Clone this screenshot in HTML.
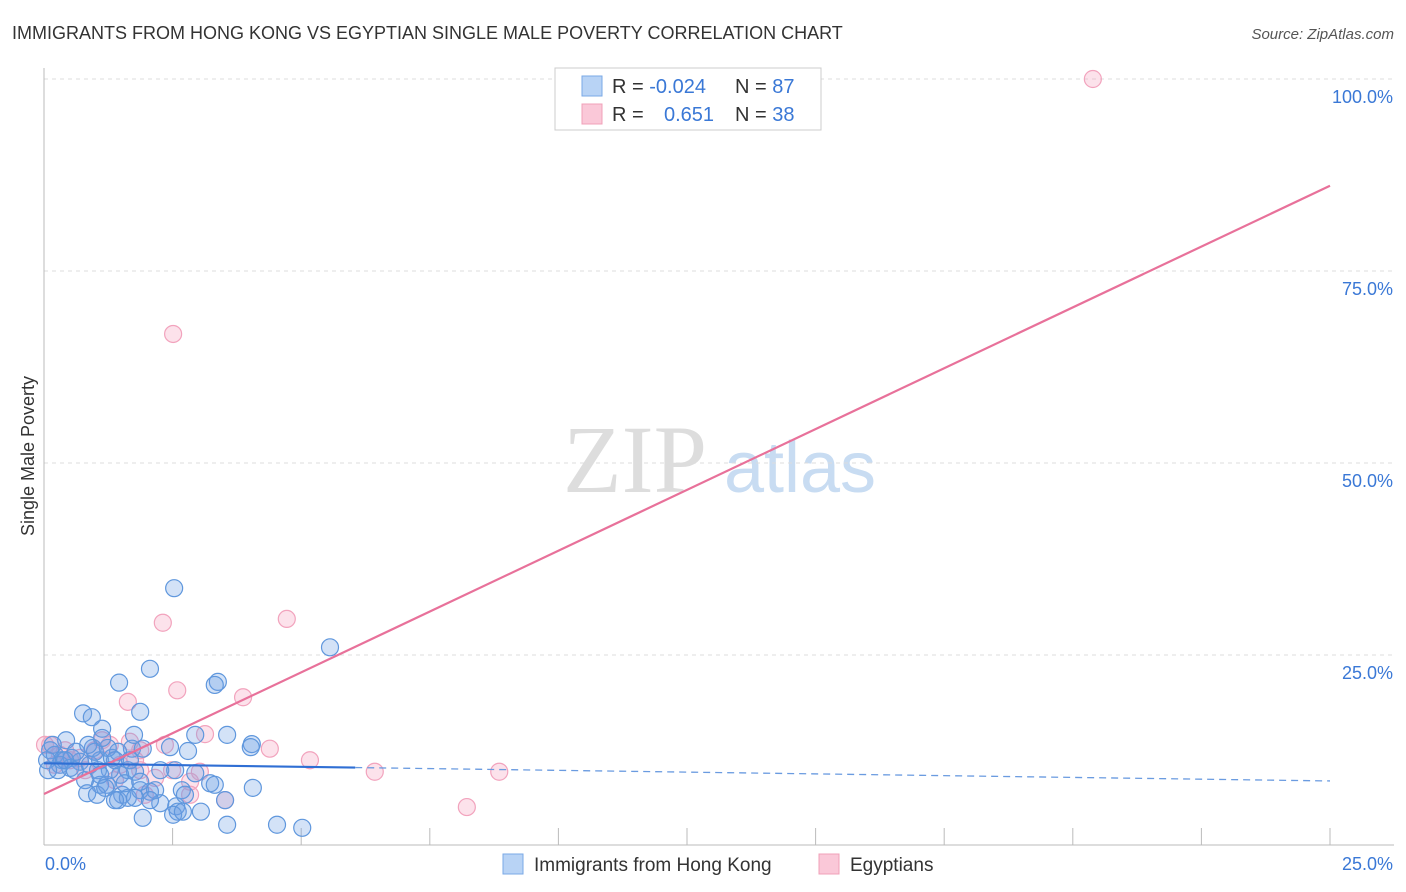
<!DOCTYPE html>
<html><head><meta charset="utf-8">
<style>
body{margin:0;background:#fff;font-family:"Liberation Sans",sans-serif;}
svg{display:block}
</style></head>
<body>
<svg id="chart" width="1406" height="892" xmlns="http://www.w3.org/2000/svg">
<text x="12" y="39" font-size="18" fill="#333">IMMIGRANTS FROM HONG KONG VS EGYPTIAN SINGLE MALE POVERTY CORRELATION CHART</text>
<text x="1394" y="39" font-size="15" fill="#555" text-anchor="end" font-style="italic">Source: ZipAtlas.com</text>
<text x="34" y="456" font-size="18" fill="#333" text-anchor="middle" transform="rotate(-90 34 456)">Single Male Poverty</text>
<g>
<text x="635" y="492" font-size="96" fill="#ddd" font-family="Liberation Serif,serif" text-anchor="middle">ZIP</text>
<text x="800" y="492" font-size="72" fill="#c8dcf2" text-anchor="middle">atlas</text>
</g>
<g id="grid"></g><g id="axes"></g><g id="trend"></g><g id="pts"></g>
<g>
<rect x="555" y="68" width="266" height="62" fill="#fff" stroke="#ccc"/>
<rect x="582" y="76" width="20" height="20" fill="#b8d3f5" stroke="#7aa8e6"/>
<rect x="582" y="104" width="20" height="20" fill="#fac8d8" stroke="#f0a0b8"/>
<text x="612" y="93" font-size="20" fill="#333">R = <tspan fill="#3a78d6">-0.024</tspan><tspan x="735">N = </tspan><tspan fill="#3a78d6">87</tspan></text>
<text x="612" y="121" font-size="20" fill="#333">R = <tspan x="664" fill="#3a78d6">0.651</tspan><tspan x="735">N = </tspan><tspan fill="#3a78d6">38</tspan></text>
</g>
<g>
<rect x="503" y="854" width="20" height="20" fill="#b8d3f5" stroke="#7aa8e6"/>
<text x="534" y="871" font-size="19" fill="#333">Immigrants from Hong Kong</text>
<rect x="819" y="854" width="20" height="20" fill="#fac8d8" stroke="#f0a0b8"/>
<text x="850" y="871" font-size="19" fill="#333">Egyptians</text>
</g>
</svg>
<script>
const yTicks=[25,50,75,100];
const xTickVals=[0,2.5,5,7.5,10,12.5,15,17.5,20,22.5,25];
const blueX=[2.53,2.06,1.46,3.38,3.32,5.56,0.76,0.93,1.87,1.13,3.56,2.45,2.94,4.04,4.02,2.80,1.71,1.92,0.95,0.43,0.12,0.21,0.35,0.54,0.70,0.89,1.09,1.32,1.44,1.63,1.77,1.48,1.28,1.05,0.80,1.09,1.22,1.52,1.44,1.63,1.87,2.06,2.16,1.38,0.84,1.03,3.23,3.32,4.06,2.94,2.68,2.26,2.57,2.60,2.51,2.70,3.05,1.92,3.56,4.53,5.02,0.31,0.51,0.62,0.06,0.17,0.27,0.41,1.19,2.26,2.55,1.75,0.99,1.77,1.09,2.06,1.57,1.24,3.52,2.74,1.87,1.13,0.86,0.60,1.38,0.08,1.67];
const blueY=[33.7,23.2,21.4,21.5,21.1,26.0,17.4,16.9,17.6,15.4,14.6,13.0,14.6,13.4,13.0,12.5,12.8,12.8,12.9,13.9,12.6,12.0,11.3,11.6,11.1,10.7,11.3,11.6,12.4,10.0,9.8,9.4,10.0,10.0,8.7,8.1,8.1,6.8,6.1,6.4,7.4,7.2,7.4,6.1,7.0,6.8,8.3,8.1,7.7,9.6,7.4,5.7,5.3,4.6,4.2,4.6,4.6,3.8,2.9,2.9,2.5,10.7,10.3,12.4,11.3,13.3,10.0,11.3,7.7,10.0,10.0,14.6,12.4,6.4,9.4,6.1,8.3,12.9,6.1,6.8,8.5,14.2,13.3,10.0,11.3,10.0,11.3];
const pinkX=[20.39,2.51,4.72,2.31,2.59,3.87,1.63,3.13,4.39,5.17,6.43,8.85,8.22,0.12,0.31,0.51,1.28,1.67,1.87,2.16,2.49,3.03,2.84,2.35,0.21,0.70,0.99,1.38,1.96,3.52,2.84,1.13,1.48,0.41,0.80,1.87,0.02,1.77];
const pinkY=[100,66.8,29.7,29.2,20.4,19.5,18.9,14.7,12.8,11.3,9.8,9.8,5.2,13.3,12.0,11.3,13.3,13.7,10.0,9.0,10.0,9.8,8.5,13.3,10.7,11.6,12.6,8.7,6.8,6.1,6.8,13.9,10.7,12.6,10.0,12.6,13.3,11.3];
const blueTrend=[10.9,8.6]; const blueSolidEnd=6.05;
const pinkTrend=[6.9,86.1];
const NS="http://www.w3.org/2000/svg";
const X0=44,X1=1330,Y0=847,Y100=79;
const sx=v=>X0+(v/25)*(X1-X0);
const sy=v=>Y0-(v/100)*(Y0-Y100);
function mk(tag,attrs,parent){const e=document.createElementNS(NS,tag);for(const k in attrs)e.setAttribute(k,attrs[k]);parent.appendChild(e);return e;}
const grid=document.getElementById('grid'),axes=document.getElementById('axes');
yTicks.forEach(t=>{
 const l=mk('line',{x1:X0,x2:1394,y1:sy(t),y2:sy(t),stroke:'#ddd','stroke-dasharray':'4,4'},grid);
 
 
 const tx=mk('text',{x:1393,y:sy(t)+24,'font-size':18,fill:'#3a78d6','text-anchor':'end'},axes);
 tx.textContent=t.toFixed(1)+'%';
 
 
});
mk('line',{x1:X0,x2:X0,y1:68,y2:845,stroke:'#bbb'},axes);
mk('line',{x1:X0,x2:1394,y1:845,y2:845,stroke:'#bbb'},axes);
xTickVals.forEach(t=>{
 if(t===0)return;
 const l=mk('line',{x1:sx(t),x2:sx(t),y1:828,y2:845,stroke:'#bbb'},axes);
 
 
});
const xl0=mk('text',{x:45,y:870,'font-size':18,fill:'#3a78d6'},axes);xl0.textContent='0.0%';


const xl1=mk('text',{x:1393,y:870,'font-size':18,fill:'#3a78d6','text-anchor':'end'},axes);xl1.textContent='25.0%';


const pts=document.getElementById('pts');
pinkX.forEach((x,i)=>{const c=mk('circle',{cx:sx(x),cy:sy(pinkY[i]),r:8.5,fill:'rgba(245,160,190,0.3)',stroke:'#f2a3bd','stroke-width':1.2},pts);
 
 });
blueX.forEach((x,i)=>{const c=mk('circle',{cx:sx(x),cy:sy(blueY[i]),r:8.5,fill:'rgba(110,160,230,0.3)',stroke:'#5f97dd','stroke-width':1.2},pts);
 
 });
const tr=document.getElementById('trend');
const bAt=x=>blueTrend[0]+(blueTrend[1]-blueTrend[0])*x/25;
const p=mk('line',{x1:sx(0),y1:sy(pinkTrend[0]),x2:sx(25),y2:sy(pinkTrend[1]),stroke:'#e8719a','stroke-width':2.2},pts);


const b1=mk('line',{x1:sx(0),y1:sy(bAt(0)),x2:sx(blueSolidEnd),y2:sy(bAt(blueSolidEnd)),stroke:'#2f6fd4','stroke-width':2.2},pts);


const b2=mk('line',{x1:sx(blueSolidEnd),y1:sy(bAt(blueSolidEnd)),x2:sx(25),y2:sy(bAt(25)),stroke:'#6a9be0','stroke-width':1.3,'stroke-dasharray':'7,5'},pts);


</script>
</body></html>
